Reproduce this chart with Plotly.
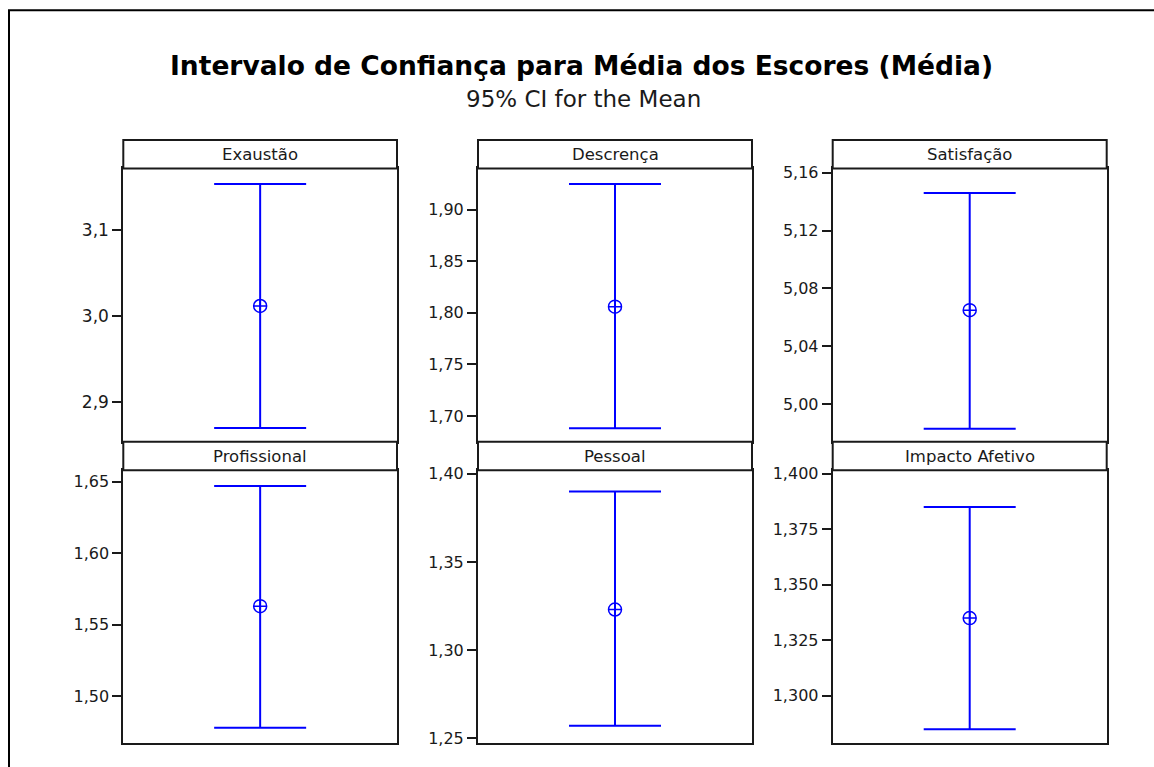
import plotly.graph_objects as go

# Interval plot: mean and 95% CI for each score dimension
panels = ["Exaustão", "Descrença", "Satisfação", "Profissional", "Pessoal", "Impacto Afetivo"]
means = [3.012, 1.806, 5.065, 1.563, 1.323, 1.335]
lower = [2.870, 1.688, 4.983, 1.478, 1.257, 1.285]
upper = [3.154, 1.925, 5.146, 1.647, 1.390, 1.385]

tick_values = [
    [2.9, 3.0, 3.1],
    [1.70, 1.75, 1.80, 1.85, 1.90],
    [5.00, 5.04, 5.08, 5.12, 5.16],
    [1.50, 1.55, 1.60, 1.65],
    [1.25, 1.30, 1.35, 1.40],
    [1.300, 1.325, 1.350, 1.375, 1.400],
]
tick_formats = [".1f", ".2f", ".2f", ".2f", ".2f", ".3f"]
tick_sizes = [17, 16, 16, 16, 16, 16]
y_ranges = [
    [2.854, 3.172],
    [1.675, 1.940],
    [4.974, 5.163],
    [1.467, 1.658],
    [1.247, 1.402],
    [1.2786, 1.4015],
]

W, H = 1154, 767
# vertical mapping from layout pixels to the displayed page
Y_OFF, Y_SCALE = 5.85, 0.988
FONT = "DejaVu Sans"
BLUE = "#0000FF"
FRAME = "#1a1a1a"

# panel geometry in page pixels
col_x = [(123.3, 397.0), (478.0, 752.0), (832.7, 1106.7)]
row_strip = [(140.0, 168.5), (442.0, 470.7)]
row_plot = [(168.5, 442.0), (470.7, 744.0)]


def px(x):
    return x / W


def py(y):
    return 1 - ((y - Y_OFF) / Y_SCALE) / H


fig = go.Figure()
shapes = []
annotations = []

for i, name in enumerate(panels):
    r, c = divmod(i, 3)
    xa = "x" if i == 0 else f"x{i + 1}"
    ya = "y" if i == 0 else f"y{i + 1}"
    x0, x1 = col_x[c]
    s0, s1 = row_strip[r]
    p0, p1 = row_plot[r]

    fig.add_trace(go.Scatter(
        x=[0.5], y=[means[i]],
        xaxis=xa, yaxis=ya,
        mode="markers",
        marker=dict(symbol="circle-cross-open", size=13, color=BLUE,
                    line=dict(width=1.5, color=BLUE)),
        error_y=dict(type="data", symmetric=False,
                     array=[upper[i] - means[i]],
                     arrayminus=[means[i] - lower[i]],
                     color=BLUE, thickness=2, width=46),
        showlegend=False, hoverinfo="skip",
    ))

    xkey = "xaxis" if i == 0 else f"xaxis{i + 1}"
    ykey = "yaxis" if i == 0 else f"yaxis{i + 1}"
    fig.update_layout(**{
        xkey: dict(domain=[px(x0), px(x1)], range=[0, 1], anchor=ya,
                   showticklabels=False, ticks="", showgrid=False,
                   zeroline=False, showline=True, mirror=True,
                   linecolor=FRAME, linewidth=2, fixedrange=True),
        ykey: dict(domain=[py(p1), py(p0)], range=y_ranges[i], anchor=xa,
                   tickvals=tick_values[i], tickformat=tick_formats[i],
                   ticks="outside", ticklen=9, tickwidth=1.5, tickcolor=FRAME,
                   showgrid=False, zeroline=False, showline=True, mirror=True,
                   linecolor=FRAME, linewidth=2,
                   tickfont=dict(family=FONT, size=tick_sizes[i], color="#1a1a1a"),
                   fixedrange=True),
    })

    # strip header box with the panel name
    shapes.append(dict(type="rect", xref="paper", yref="paper",
                       x0=px(x0), x1=px(x1), y0=py(s1), y1=py(s0),
                       line=dict(color=FRAME, width=2), fillcolor="white"))
    annotations.append(dict(text=name, xref="paper", yref="paper",
                            x=px((x0 + x1) / 2), y=py((s0 + s1) / 2),
                            xanchor="center", yanchor="middle", showarrow=False,
                            font=dict(family=FONT, size=16.5, color="#1a1a1a")))

# outer frame of the graph window
shapes.append(dict(type="rect", xref="paper", yref="paper",
                   x0=px(9), x1=px(1170), y0=-0.05, y1=py(10),
                   line=dict(color="black", width=2), fillcolor="rgba(0,0,0,0)"))

annotations.append(dict(text="<b>Intervalo de Confiança para Média dos Escores (Média)</b>",
                        xref="paper", yref="paper", x=px(581), y=py(65),
                        xanchor="center", yanchor="middle", showarrow=False,
                        font=dict(family=FONT, size=26.5, color="black")))
annotations.append(dict(text="95% CI for the Mean",
                        xref="paper", yref="paper", x=px(583), y=py(99),
                        xanchor="center", yanchor="middle", showarrow=False,
                        font=dict(family=FONT, size=23, color="#1a1a1a")))

fig.update_layout(
    width=W, height=H,
    margin=dict(l=0, r=0, t=0, b=0),
    paper_bgcolor="white", plot_bgcolor="white",
    separators=",.",
    shapes=shapes, annotations=annotations,
    showlegend=False,
)

fig.write_html("out.html", config={"displayModeBar": False})
